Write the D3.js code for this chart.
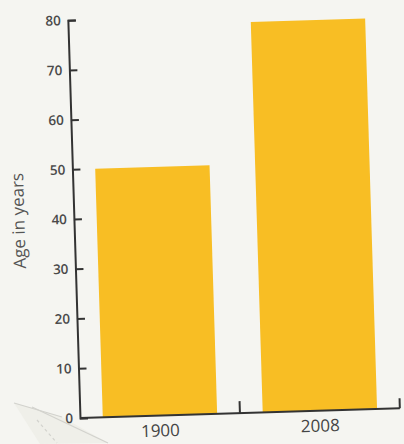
<!DOCTYPE html>
<html><head><meta charset="utf-8">
<script src="https://cdn.jsdelivr.net/npm/d3@7"></script>
<style>body{margin:0;background:#f5f5f1;} svg{display:block;}</style>
</head><body>
<svg id="chart" width="404" height="444"></svg>
<script>
const categories = ["1900", "2008"];
const ages = [50, 78.5];
const yTicks = [0, 10, 20, 30, 40, 50, 60, 70, 80];
const yTitle = "Age in years";

const svg = d3.select("#chart");
svg.append("rect").attr("width", 404).attr("height", 444).attr("fill", "#f5f5f1");

// faint decoration bottom-left
svg.append("path").attr("d", "M14,403 L62,417 L108,443 L40,444 Z").attr("fill", "#efefe9").attr("stroke", "none");
const deco = svg.append("g").attr("fill", "none").attr("stroke", "#d2d2cd").attr("stroke-width", 1.2);
deco.append("path").attr("d", "M14,403 L62,417");
deco.append("path").attr("d", "M32,407 L108,443");
deco.append("path").attr("d", "M37,420 L57,443").attr("stroke-dasharray", "3,3");

const W = 320, H = 398;
const g = svg.append("g").attr("transform", "translate(80,418) rotate(-1.75)");

const y = d3.scaleLinear().domain([0, 80]).range([0, -H]);
const x = d3.scaleBand().domain(categories).range([0, W]).paddingInner(0.285).paddingOuter(0.1425);
const xAxisBand = d3.scaleBand().domain(categories).range([0, W]).padding(0);

// bars
g.selectAll("rect.bar").data(categories).join("rect")
  .attr("class", "bar")
  .attr("x", d => x(d))
  .attr("width", x.bandwidth())
  .attr("y", (d, i) => y(ages[i]))
  .attr("height", (d, i) => y(0) - y(ages[i]))
  .attr("fill", "#f8be24");

// y axis
const yAxis = d3.axisLeft(y).tickValues(yTicks).tickSizeInner(-8).tickSizeOuter(-8).tickPadding(7);
const ya = g.append("g").call(yAxis);
ya.select(".domain").attr("stroke", "#333").attr("stroke-width", 2);
ya.selectAll(".tick line").attr("stroke", "#333").attr("stroke-width", 2);
ya.selectAll(".tick text").attr("font-family", "Open Sans").attr("font-weight", 600)
  .attr("font-size", 13.5).attr("fill", "#4a4a4a");

// x axis
const xa = g.append("g");
xa.append("line").attr("x1", 0).attr("x2", W).attr("y1", 0).attr("y2", 0)
  .attr("stroke", "#333").attr("stroke-width", 2);
xa.selectAll("line.tk").data(categories).join("line")
  .attr("class", "tk")
  .attr("x1", d => xAxisBand(d) + xAxisBand.bandwidth())
  .attr("x2", d => xAxisBand(d) + xAxisBand.bandwidth())
  .attr("y1", 0).attr("y2", (d, i) => i === 0 ? -12 : -10)
  .attr("stroke", "#333").attr("stroke-width", 2);
xa.selectAll("text").data(categories).join("text")
  .attr("x", d => x(d) + x.bandwidth() / 2)
  .attr("y", 21)
  .attr("text-anchor", "middle")
  .attr("font-family", "Open Sans").attr("font-size", 17).attr("fill", "#444")
  .text(d => d);

// y title
g.append("text")
  .attr("transform", `translate(-56,${y(40)}) rotate(-90)`)
  .attr("text-anchor", "middle").attr("dominant-baseline", "central")
  .attr("font-family", "Open Sans").attr("font-size", 17).attr("fill", "#555")
  .text(yTitle);
</script>
</body></html>
